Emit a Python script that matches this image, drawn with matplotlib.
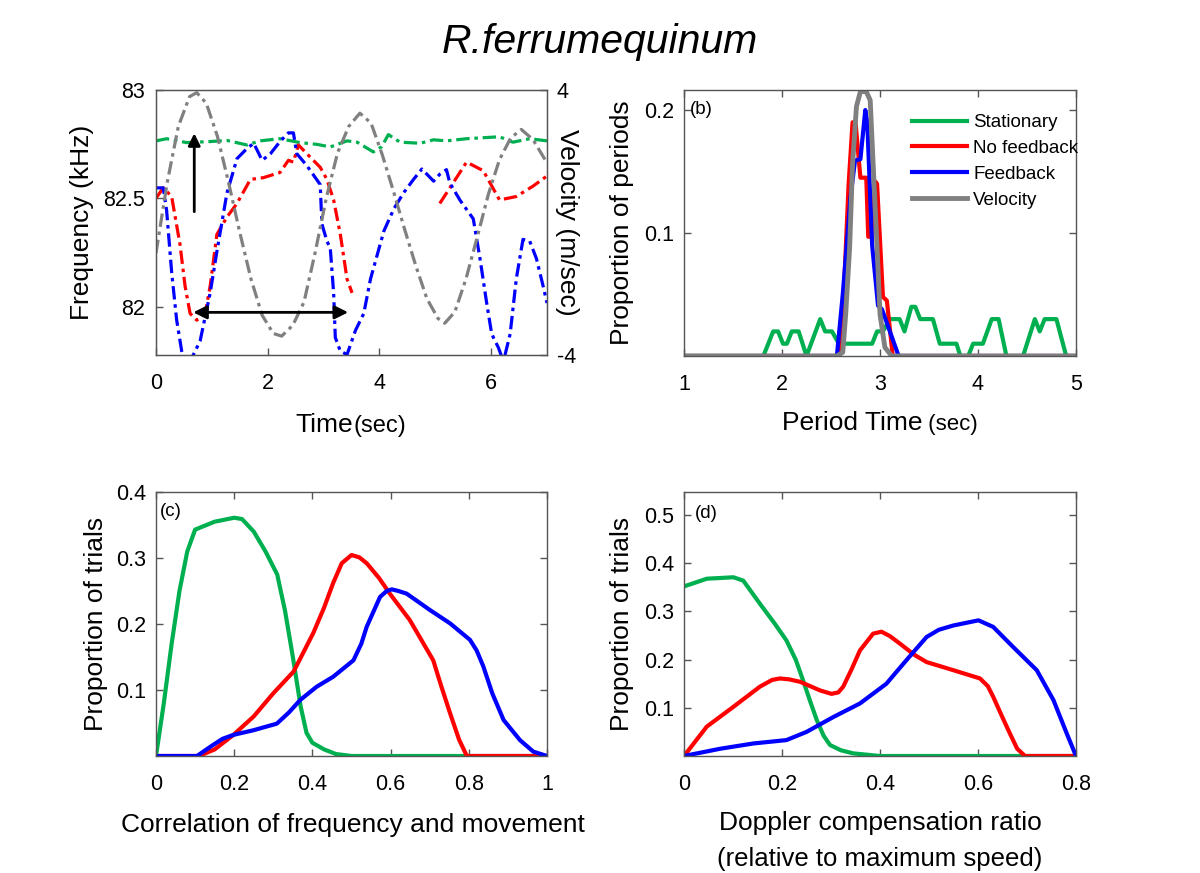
import matplotlib
matplotlib.use('Agg')
import matplotlib.pyplot as plt
from matplotlib.ticker import FormatStrFormatter

plt.rcParams['font.family'] = ['Liberation Sans', 'DejaVu Sans']
plt.rcParams['axes.unicode_minus'] = False

GREEN = '#00B050'
RED = '#FF0000'
BLUE = '#0000FF'
GRAY = '#808080'
SPINE = '#555555'

# ---------------- Panel (a): time series ----------------
t_vel = [0, 0.2, 0.4, 0.6, 0.73, 0.9, 1.1, 1.3, 1.5, 1.7, 1.9, 2.1, 2.25, 2.45, 2.65,
         2.85, 3.05, 3.25, 3.45, 3.65, 3.85, 4.05, 4.25, 4.45, 4.65, 4.85, 5.05, 5.17,
         5.35, 5.55, 5.75, 5.95, 6.15, 6.35, 6.54, 6.75, 7.0]
vel = [-0.92, 1.2, 2.9, 3.8, 3.92, 3.6, 2.6, 1.2, -0.3, -1.7, -2.8, -3.35, -3.43, -3.1, -2.4,
       -0.9, 0.75, 2.1, 2.9, 3.3, 3.0, 2.05, 0.95, -0.2, -1.3, -2.3, -2.9, -3.04,
       -2.7, -1.7, -0.45, 0.85, 1.9, 2.55, 2.81, 2.5, 1.8]

t_stat = [0, 0.19, 0.55, 0.97, 1.27, 1.63, 1.86, 2.22, 2.58, 2.88, 3.12, 3.42, 3.6, 3.89,
          4.04, 4.16, 4.37, 4.73, 4.97, 5.2, 5.56, 6.15, 6.39, 6.69, 7.0]
f_stat = [82.765, 82.775, 82.757, 82.762, 82.767, 82.746, 82.765, 82.775, 82.757, 82.749,
          82.737, 82.765, 82.759, 82.714, 82.738, 82.794, 82.759, 82.754, 82.770, 82.765,
          82.775, 82.784, 82.759, 82.775, 82.765]

t_nofb1 = [0, 0.13, 0.28, 0.43, 0.52, 0.61, 0.73, 0.88, 0.97, 1.09, 1.27, 1.45, 1.69, 1.92,
           2.22, 2.37, 2.46, 2.55, 2.7, 2.94, 3.06, 3.18, 3.3, 3.42, 3.51]
f_nofb1 = [82.5, 82.548, 82.508, 82.286, 82.095, 81.968, 81.937, 81.968, 82.095, 82.333,
           82.413, 82.476, 82.587, 82.595, 82.619, 82.675, 82.667, 82.746, 82.706, 82.643,
           82.587, 82.492, 82.333, 82.127, 82.063]
t_nofb2 = [5.08, 5.32, 5.56, 5.86, 6.15, 6.45, 6.75, 7.0]
f_nofb2 = [82.476, 82.571, 82.667, 82.627, 82.492, 82.508, 82.556, 82.603]

t_fb = [0, 0.13, 0.19, 0.28, 0.37, 0.46, 0.52, 0.61, 0.79, 0.97, 1.09, 1.27, 1.45, 1.63,
        1.75, 1.9, 2.05, 2.22, 2.37, 2.46, 2.52, 2.7, 2.94, 2.97, 3.06, 3.12, 3.18, 3.21,
        3.3, 3.42, 3.57, 3.72, 3.84, 3.96, 4.08, 4.26, 4.43, 4.61, 4.76, 4.97, 5.08, 5.2,
        5.26, 5.44, 5.68, 5.8, 5.92, 6.01, 6.13, 6.22, 6.34, 6.45, 6.57, 6.69, 6.81, 6.93, 7.0]
f_fb = [82.548, 82.548, 82.444, 82.159, 81.937, 81.794, 81.738, 81.746, 81.841, 82.063,
        82.254, 82.524, 82.683, 82.730, 82.754, 82.675, 82.706, 82.762, 82.802, 82.802,
        82.706, 82.651, 82.563, 82.381, 82.302, 82.27, 82.063, 81.857, 81.794, 81.778,
        81.889, 81.968, 82.127, 82.238, 82.349, 82.452, 82.524, 82.587, 82.635, 82.579,
        82.611, 82.632, 82.571, 82.492, 82.405, 82.222, 82.016, 81.873, 81.81, 81.746,
        81.873, 82.127, 82.31, 82.302, 82.222, 82.095, 82.016]

# annotation arrows (time, frequency)
varrow_t = 0.685
varrow_f = [82.438, 82.80]
harrow_t = [0.667, 3.44]
harrow_f = 81.973

# ---------------- Panel (b): period distributions ----------------
p_stat = [1.0, 1.81, 1.91, 1.96, 2.01, 2.05, 2.10, 2.17, 2.25, 2.39, 2.44, 2.51, 2.58, 2.92,
          2.97, 3.03, 3.10, 3.20, 3.25, 3.32, 3.36, 3.41, 3.54, 3.61, 3.78, 3.82, 3.90, 3.95,
          4.05, 4.14, 4.21, 4.29, 4.46, 4.58, 4.63, 4.68, 4.80, 4.90, 5.0]
y_stat = [0, 0, 0.02, 0.02, 0.01, 0.01, 0.02, 0.02, 0, 0.03, 0.02, 0.02, 0.01, 0.01,
          0.02, 0.02, 0.03, 0.03, 0.02, 0.04, 0.04, 0.03, 0.03, 0.01, 0.01, 0, 0, 0.01,
          0.01, 0.03, 0.03, 0, 0, 0.03, 0.02, 0.03, 0.03, 0, 0]

p_nofb = [1.0, 2.59, 2.63, 2.68, 2.72, 2.75, 2.80, 2.86, 2.88, 2.91, 2.95, 2.97, 3.03,
          3.07, 3.13, 5.0]
y_nofb = [0, 0, 0.05, 0.14, 0.19, 0.19, 0.145, 0.145, 0.097, 0.097, 0.142, 0.14, 0.048,
          0.045, 0, 0]

p_fb = [1.0, 2.56, 2.62, 2.70, 2.745, 2.80, 2.85, 2.87, 2.92, 2.98, 3.02, 3.19, 5.0]
y_fb = [0, 0, 0.05, 0.13, 0.159, 0.16, 0.20, 0.19, 0.09, 0.041, 0.038, 0, 0]

p_vel = [1.0, 2.56, 2.62, 2.65, 2.69, 2.72, 2.76, 2.80, 2.86, 2.90, 2.93, 2.97, 3.00,
         3.05, 3.12, 5.0]
y_vel = [0, 0, 0.003, 0.034, 0.088, 0.156, 0.203, 0.215, 0.215, 0.208, 0.156, 0.088,
         0.034, 0.007, 0, 0]

# ---------------- Panel (c): correlation ----------------
c_stat_x = [0, 0.02, 0.04, 0.06, 0.08, 0.1, 0.15, 0.2, 0.22, 0.25, 0.28, 0.31, 0.33, 0.35,
            0.37, 0.385, 0.4, 0.43, 0.46, 0.5, 1.0]
c_stat_y = [0, 0.08, 0.17, 0.25, 0.31, 0.343, 0.355, 0.361, 0.359, 0.34, 0.31, 0.275, 0.22,
            0.15, 0.075, 0.035, 0.02, 0.01, 0.003, 0, 0]
c_nofb_x = [0, 0.11, 0.15, 0.198, 0.25, 0.3, 0.352, 0.402, 0.43, 0.453, 0.475, 0.5, 0.52,
            0.539, 0.57, 0.598, 0.649, 0.709, 0.73, 0.752, 0.775, 0.795, 1.0]
c_nofb_y = [0, 0, 0.01, 0.032, 0.06, 0.095, 0.128, 0.186, 0.225, 0.262, 0.292, 0.3045,
            0.301, 0.292, 0.27, 0.246, 0.206, 0.145, 0.105, 0.065, 0.025, 0, 0]
c_fb_x = [0, 0.105, 0.139, 0.17, 0.198, 0.249, 0.309, 0.34, 0.369, 0.411, 0.453, 0.505,
          0.525, 0.539, 0.573, 0.59, 0.603, 0.62, 0.641, 0.701, 0.752, 0.803, 0.82, 0.837,
          0.86, 0.889, 0.931, 0.965, 1.0]
c_fb_y = [0, 0, 0.014, 0.026, 0.032, 0.039, 0.049, 0.066, 0.085, 0.105, 0.12, 0.145,
          0.17, 0.196, 0.241, 0.25, 0.2525, 0.25, 0.246, 0.221, 0.201, 0.176, 0.16, 0.136,
          0.095, 0.0545, 0.024, 0.0066, 0]

# ---------------- Panel (d): Doppler compensation ----------------
d_stat_x = [0, 0.0465, 0.1007, 0.121, 0.155, 0.185, 0.209, 0.228, 0.243, 0.258, 0.271,
            0.285, 0.298, 0.32, 0.345, 0.40, 0.8]
d_stat_y = [0.352, 0.368, 0.371, 0.364, 0.316, 0.275, 0.240, 0.200, 0.157, 0.112, 0.0745,
            0.042, 0.0228, 0.012, 0.0055, 0, 0]
d_nofb_x = [0, 0.0465, 0.1007, 0.155, 0.18, 0.196, 0.215, 0.237, 0.278, 0.301, 0.315,
            0.325, 0.342, 0.359, 0.386, 0.403, 0.42, 0.441, 0.47, 0.495, 0.550, 0.604,
            0.62, 0.631, 0.65, 0.665, 0.68, 0.696, 0.8]
d_nofb_y = [0, 0.061, 0.102, 0.144, 0.158, 0.161, 0.159, 0.154, 0.136, 0.129, 0.132,
            0.144, 0.18, 0.219, 0.254, 0.258, 0.249, 0.233, 0.21, 0.195, 0.178, 0.161,
            0.145, 0.123, 0.08, 0.047, 0.015, 0, 0]
d_fb_x = [0, 0.0735, 0.1415, 0.209, 0.25, 0.305, 0.359, 0.413, 0.454, 0.495, 0.520, 0.550,
          0.601, 0.631, 0.672, 0.720, 0.754, 0.781, 0.8]
d_fb_y = [0, 0.015, 0.026, 0.033, 0.05, 0.081, 0.109, 0.150, 0.199, 0.247, 0.262, 0.271,
          0.2816, 0.268, 0.226, 0.178, 0.116, 0.047, 0]

legend_labels = ['Stationary', 'No feedback', 'Feedback', 'Velocity']

# ---------------- Figure ----------------
W, H = 1200, 873
fig = plt.figure(figsize=(W / 100, H / 100), dpi=100)


def px_axes(l, t, r, b):
    return fig.add_axes([l / W, 1 - b / H, (r - l) / W, (b - t) / H])


TICK_FS = 15.5


def style(ax, top=True, right=True, xpad=13, ypad=7):
    for s in ax.spines.values():
        s.set_color(SPINE)
        s.set_linewidth(1.0)
    ax.tick_params(axis='both', direction='in', length=5, width=1, color=SPINE,
                   labelsize=TICK_FS, top=top, right=right)
    ax.tick_params(axis='x', pad=xpad)
    ax.tick_params(axis='y', pad=ypad)


LABEL_FS = 19
DASH = (4.2, 1.5, 1.1, 1.5)
LW_A = 2.3

# (a)
axA = px_axes(156, 90, 547, 355)
axA.plot(t_stat, f_stat, color=GREEN, lw=LW_A, dashes=DASH)
axA.plot(t_nofb1, f_nofb1, color=RED, lw=LW_A, dashes=DASH)
axA.plot(t_nofb2, f_nofb2, color=RED, lw=LW_A, dashes=DASH)
axA.plot(t_fb, f_fb, color=BLUE, lw=LW_A, dashes=DASH)
axA.set_xlim(0, 7)
axA.set_ylim(81.776, 83.0)
axA.set_xticks([0, 2, 4, 6])
axA.set_yticks([82, 82.5, 83])
axA.yaxis.set_major_formatter(FormatStrFormatter('%g'))
style(axA, top=False, right=False, xpad=13, ypad=8)
axA.set_ylabel('Frequency (kHz)', fontsize=LABEL_FS)
axA.yaxis.set_label_coords(-0.159, 0.5)

axV = axA.twinx()
axV.plot(t_vel, vel, color=GRAY, lw=LW_A, dashes=DASH)
axV.set_ylim(-4, 4)
axV.set_yticks([-4, 4])
for s in axV.spines.values():
    s.set_color(SPINE)
axV.tick_params(axis='y', direction='in', length=5, width=1, color=SPINE,
                labelsize=TICK_FS, pad=7)
axV.set_ylabel('Velocity (m/sec)', fontsize=LABEL_FS, rotation=270, va='bottom')
axV.yaxis.set_label_coords(1.0205, 0.5)

axV.annotate('', xy=(varrow_t, varrow_f[1]), xytext=(varrow_t, varrow_f[0]),
             xycoords=axA.transData, textcoords=axA.transData,
             arrowprops=dict(arrowstyle='-|>', color='k', lw=2, mutation_scale=18,
                             shrinkA=0, shrinkB=0))
axV.annotate('', xy=(harrow_t[1], harrow_f), xytext=(harrow_t[0], harrow_f),
             xycoords=axA.transData, textcoords=axA.transData,
             arrowprops=dict(arrowstyle='<|-|>', color='k', lw=2, mutation_scale=20,
                             shrinkA=0, shrinkB=0))

# (b)
axB = px_axes(684, 90, 1076, 356)
hB = []
hB += axB.plot(p_stat, y_stat, color=GREEN, lw=3)
hB += axB.plot(p_nofb, y_nofb, color=RED, lw=3)
hB += axB.plot(p_fb, y_fb, color=BLUE, lw=3)
hB += axB.plot(p_vel, y_vel, color=GRAY, lw=3.5)
axB.set_xlim(1, 5)
axB.set_ylim(0, 0.2163)
axB.set_xticks([1, 2, 3, 4, 5])
axB.set_yticks([0.1, 0.2])
axB.yaxis.set_major_formatter(FormatStrFormatter('%g'))
style(axB)
axB.set_ylabel('Proportion of periods', fontsize=LABEL_FS)
axB.yaxis.set_label_coords(-0.128, 0.5)
axB.text(0.015, 0.96, '(b)', transform=axB.transAxes, fontsize=13.5, va='top', ha='left')
axB.legend(hB, legend_labels, loc='upper left', bbox_to_anchor=(0.582, 0.91),
           frameon=False, fontsize=13.5, handlelength=2.9, handletextpad=0.35,
           labelspacing=0.47, borderpad=0, borderaxespad=0)

# (c)
axC = px_axes(156, 492, 547, 756)
axC.plot(c_stat_x, c_stat_y, color=GREEN, lw=3)
axC.plot(c_nofb_x, c_nofb_y, color=RED, lw=3)
axC.plot(c_fb_x, c_fb_y, color=BLUE, lw=3)
axC.set_xlim(0, 1)
axC.set_ylim(0, 0.4)
axC.set_xticks([0, 0.2, 0.4, 0.6, 0.8, 1.0])
axC.set_yticks([0.1, 0.2, 0.3, 0.4])
axC.xaxis.set_major_formatter(FormatStrFormatter('%g'))
axC.yaxis.set_major_formatter(FormatStrFormatter('%g'))
style(axC)
axC.set_ylabel('Proportion of trials', fontsize=LABEL_FS)
axC.yaxis.set_label_coords(-0.123, 0.5)
axC.text(0.01, 0.96, '(c)', transform=axC.transAxes, fontsize=13.5, va='top', ha='left')

# (d)
axD = px_axes(684, 492, 1076, 756)
axD.plot(d_stat_x, d_stat_y, color=GREEN, lw=3)
axD.plot(d_nofb_x, d_nofb_y, color=RED, lw=3)
axD.plot(d_fb_x, d_fb_y, color=BLUE, lw=3)
axD.set_xlim(0, 0.8)
axD.set_ylim(0, 0.548)
axD.set_xticks([0, 0.2, 0.4, 0.6, 0.8])
axD.set_yticks([0.1, 0.2, 0.3, 0.4, 0.5])
axD.xaxis.set_major_formatter(FormatStrFormatter('%g'))
axD.yaxis.set_major_formatter(FormatStrFormatter('%g'))
style(axD)
axD.set_ylabel('Proportion of trials', fontsize=LABEL_FS)
axD.yaxis.set_label_coords(-0.128, 0.5)
axD.text(0.028, 0.95, '(d)', transform=axD.transAxes, fontsize=13.5, va='top', ha='left')

# ---------------- Titles / x labels (pixel placed) ----------------
fig.text(600 / W, 1 - 53 / H, 'R.ferrumequinum', fontsize=29.5, style='italic',
         ha='center', va='baseline')


def mixed(parts, xc, base):
    texts = [fig.text(0, 0, s, fontsize=sz, ha='left', va='baseline') for s, sz in parts]
    fig.canvas.draw()
    r = fig.canvas.get_renderer()
    widths = [t.get_window_extent(r).width for t in texts]
    x = xc - sum(widths) / 2
    for t, w in zip(texts, widths):
        t.set_position((x / W, 1 - base / H))
        x += w


mixed([('Time', 19), ('(sec)', 17)], 351, 432)
mixed([('Period Time', 19), (' (sec)', 16)], 880, 430)
fig.text(353 / W, 1 - 832 / H, 'Correlation of frequency and movement', fontsize=19,
         ha='center', va='baseline')
fig.text(880 / W, 1 - 830 / H, 'Doppler compensation ratio', fontsize=19,
         ha='center', va='baseline')
fig.text(880 / W, 1 - 866 / H, '(relative to maximum speed)', fontsize=18.5,
         ha='center', va='baseline')

fig.savefig('out.png', dpi=100)
